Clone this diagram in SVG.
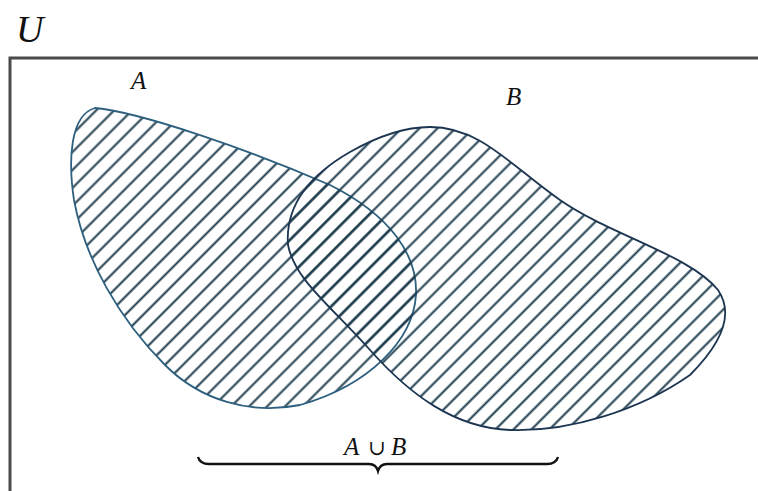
<svg xmlns="http://www.w3.org/2000/svg" width="758" height="491" viewBox="0 0 758 491">
<style>
.lbl{font-family:"Liberation Serif","DejaVu Serif",serif;font-style:italic;fill:#111}
.frame{fill:none;stroke:#4a4a4a;stroke-width:3}
.setA{fill:url(#hatch);stroke:#2d5f7f;stroke-width:1.8}
.setB{fill:url(#hatch);stroke:#1c3550;stroke-width:1.8}
.brace{fill:none;stroke:#111;stroke-width:2.4}
</style>
<defs>
<pattern id="hatch" patternUnits="userSpaceOnUse" width="12.7" height="20" patternTransform="rotate(45)">
<line x1="6.35" y1="-2" x2="6.35" y2="22" stroke="#1b3a4c" stroke-width="2"/>
</pattern>
</defs>
<rect width="758" height="491" fill="#fff"/>
<text class="lbl" x="16" y="42" font-size="38">U</text>
<path class="frame" d="M10,491 V58 H758"/>
<g id="setA">
<path class="setA" d="M95,108 C140,112 250,150 330,185 C390,215 418,255 416,295 C413,340 370,385 300,405 C250,415 200,400 165,365 C120,320 85,260 74,200 C68,160 70,115 95,108 Z"/>
<text class="lbl" x="131" y="89" font-size="25">A</text>
</g>
<g id="setB">
<path class="setB" d="M430,127 C480,127 510,165 560,200 C610,235 690,255 718,290 C735,315 720,345 690,375 C640,410 570,432 510,430 C455,428 410,395 370,350 C330,305 295,280 288,245 C285,205 310,175 350,152 C380,135 405,127 430,127 Z"/>
<text class="lbl" x="506" y="105" font-size="25">B</text>
</g>
<g id="connectors">
<path class="brace" d="M198,457 Q200,464 209,464 H369 Q376,464 378,471 Q380,464 387,464 H547 Q556,464 558,457"/>
</g>
<g id="union">
<text class="lbl" font-size="25" y="455"><tspan x="344">A</tspan><tspan x="368" font-size="21" font-style="normal">∪</tspan><tspan x="391">B</tspan></text>
</g>
</svg>
